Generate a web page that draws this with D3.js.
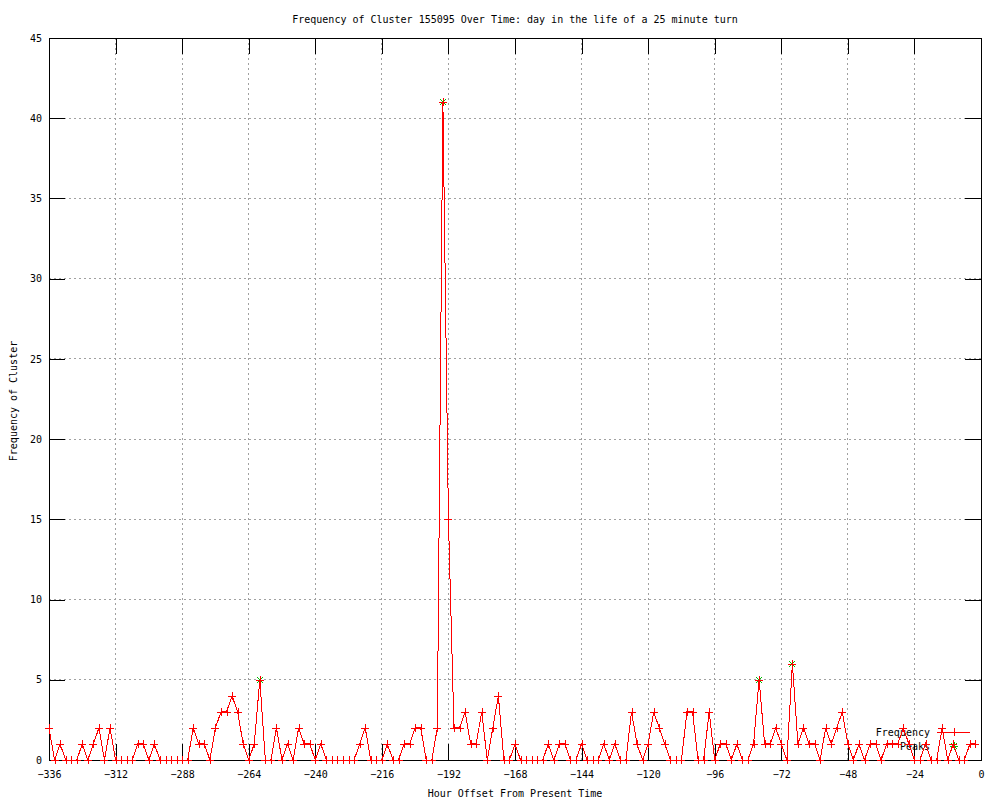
<!DOCTYPE html>
<html>
<head>
<meta charset="utf-8">
<script src="https://cdn.jsdelivr.net/npm/d3@7"></script>
<style>
body { margin: 0; background: #fff; }
text { font-family: "DejaVu Sans Mono", monospace; font-size: 10px; fill: #000; }
</style>
</head>
<body>
<div id="chart"></div>
<script>
// cluster counts, one value every 2 hours starting at -336
var frequency = [
  2, 0, 1, 0, 0, 0, 1, 0, 1, 2, 0, 2,
  0, 0, 0, 0, 1, 1, 0, 1, 0, 0, 0, 0,
  0, 0, 2, 1, 1, 0, 2, 3, 3, 4, 3, 1,
  0, 1, 5, 0, 0, 2, 0, 1, 0, 2, 1, 1,
  0, 1, 0, 0, 0, 0, 0, 0, 1, 2, 0, 0,
  0, 1, 0, 0, 1, 1, 2, 2, 0, 0, 2, 41,
  15, 2, 2, 3, 1, 1, 3, 0, 2, 4, 0, 0,
  1, 0, 0, 0, 0, 0, 1, 0, 1, 1, 0, 0,
  1, 0, 0, 0, 1, 0, 1, 0, 0, 3, 1, 0,
  1, 3, 2, 1, 0, 0, 0, 3, 3, 0, 0, 3,
  0, 1, 1, 0, 1, 0, 0, 1, 5, 1, 1, 2,
  1, 0, 6, 1, 2, 1, 1, 0, 2, 1, 2, 3,
  1, 0, 1, 0, 1, 1, 0, 1, 1, 1, 2, 1,
  0, 0, 1, 0, 0, 2, 0, 1, 0, 0, 1, 1
];
var hours = d3.range(-336, 0, 2);

var peakHours = [-260, -194, -80, -68];
var peakValues = [5, 41, 5, 6];

var xTicks = [-336, -312, -288, -264, -240, -216, -192, -168, -144, -120, -96, -72, -48, -24, 0];
var yTicks = [0, 5, 10, 15, 20, 25, 30, 35, 40, 45];

var plotLeft = 49, plotRight = 981, plotTop = 38, plotBottom = 760;

var svg = d3.select("#chart").append("svg")
            .attr("width", 1000)
            .attr("height", 800)
            .style("shape-rendering", "crispEdges");

var x = d3.scaleLinear().domain([-336, 0]).range([plotLeft, plotRight]);
var y = d3.scaleLinear().domain([0, 45]).range([plotBottom, plotTop]);

// dotted grid
svg.selectAll("line.gx")
   .data(xTicks.slice(1, -1))
   .enter().append("line")
   .attr("x1", function (d) { return x(d); })
   .attr("x2", function (d) { return x(d); })
   .attr("y1", plotTop).attr("y2", plotBottom)
   .attr("stroke", "#a0a0a0")
   .attr("stroke-dasharray", "2,3");

svg.selectAll("line.gy")
   .data(yTicks.slice(1, -1))
   .enter().append("line")
   .attr("y1", function (d) { return y(d); })
   .attr("y2", function (d) { return y(d); })
   .attr("x1", plotLeft).attr("x2", plotRight)
   .attr("stroke", "#a0a0a0")
   .attr("stroke-dasharray", "2,3");

// axes, ticks pointing inwards
svg.append("g").attr("transform", "translate(0," + plotBottom + ")")
   .call(d3.axisBottom(x).tickValues(xTicks).tickSize(-16).tickSizeOuter(0).tickPadding(11));
svg.append("g").attr("transform", "translate(0," + plotTop + ")")
   .call(d3.axisTop(x).tickValues(xTicks).tickSize(-16).tickSizeOuter(0).tickFormat(""));
svg.append("g").attr("transform", "translate(" + plotLeft + ",0)")
   .call(d3.axisLeft(y).tickValues(yTicks).tickSize(-16).tickSizeOuter(0).tickPadding(7));
svg.append("g").attr("transform", "translate(" + plotRight + ",0)")
   .call(d3.axisRight(y).tickValues(yTicks).tickSize(-16).tickSizeOuter(0).tickFormat(""));

svg.selectAll(".domain").remove();
svg.selectAll(".tick line").attr("stroke", "#000");

svg.append("rect")
   .attr("x", plotLeft).attr("y", plotTop)
   .attr("width", plotRight - plotLeft).attr("height", plotBottom - plotTop)
   .attr("fill", "none").attr("stroke", "#000");

// titles
svg.append("text")
   .attr("x", 515).attr("y", 23)
   .attr("text-anchor", "middle")
   .text("Frequency of Cluster 155095 Over Time: day in the life of a 25 minute turn");

svg.append("text")
   .attr("x", 515).attr("y", 797)
   .attr("text-anchor", "middle")
   .text("Hour Offset From Present Time");

svg.append("text")
   .attr("transform", "translate(17,401) rotate(-90)")
   .attr("text-anchor", "middle")
   .text("Frequency of Cluster");

// key
svg.append("text").attr("x", 930).attr("y", 736).attr("text-anchor", "end").text("Frequency");
svg.append("text").attr("x", 930).attr("y", 750).attr("text-anchor", "end").text("Peaks");
svg.append("line")
   .attr("x1", 937).attr("x2", 970).attr("y1", 732).attr("y2", 732)
   .attr("stroke", "#ff0000");

function plus(px, py, s) {
  return "M" + (px - s) + "," + py + "H" + (px + s) + "M" + px + "," + (py - s) + "V" + (py + s);
}
function cross(px, py, s) {
  return "M" + (px - s) + "," + (py - s) + "L" + (px + s) + "," + (py + s) +
         "M" + (px - s) + "," + (py + s) + "L" + (px + s) + "," + (py - s);
}

svg.append("path").attr("d", plus(954, 732, 4)).attr("stroke", "#ff0000");
svg.append("path").attr("d", plus(954, 746, 4) + cross(954, 746, 3)).attr("stroke", "#00c000");

// peaks (green stars)
svg.selectAll("path.peak")
   .data(peakHours)
   .enter().append("path")
   .attr("d", function (d, i) {
     var px = Math.round(x(d)), py = Math.round(y(peakValues[i]));
     return plus(px, py, 4) + cross(px, py, 3);
   })
   .attr("stroke", "#00c000")
   .attr("fill", "none");

// frequency line with + markers
var line = d3.line()
   .x(function (d, i) { return x(hours[i]); })
   .y(function (d) { return y(d); });

svg.append("path")
   .datum(frequency)
   .attr("d", line)
   .attr("fill", "none")
   .attr("stroke", "#ff0000");

svg.selectAll("path.pt")
   .data(frequency)
   .enter().append("path")
   .attr("d", function (d, i) {
     return plus(Math.round(x(hours[i])), Math.round(y(d)), 4);
   })
   .attr("stroke", "#ff0000")
   .attr("fill", "none");
</script>
</body>
</html>
